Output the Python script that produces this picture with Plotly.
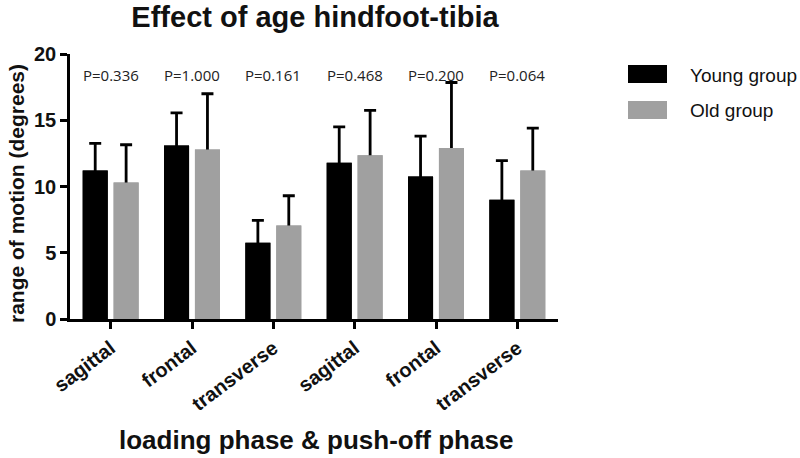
import plotly.graph_objects as go

# data
categorias = ['sagittal', 'frontal', 'transverse', 'sagittal', 'frontal', 'transverse']
p_valores = ['P=0.336', 'P=1.000', 'P=0.161', 'P=0.468', 'P=0.200', 'P=0.064']
grupos = ['Young group', 'Old group']
jovem_media = [11.2, 13.1, 5.75, 11.8, 10.75, 9.0]
jovem_sd = [2.05, 2.45, 1.7, 2.7, 3.05, 2.95]
idoso_media = [10.3, 12.8, 7.05, 12.35, 12.9, 11.2]
idoso_sd = [2.85, 4.2, 2.25, 3.4, 4.95, 3.2]

pos = list(range(len(categorias)))
fonte = 'Liberation Sans, Arial, sans-serif'
cores = ['#000000', '#a0a0a0']

# plot area in pixels (used to place the hand made legend and titles)
L, R, T, B = 70, 558, 54, 319


def px_x(x):
    return (x - L) / (R - L)


def px_y(y):
    return (B - y) / (B - T)


def barra_erro(medias, sd, cor, nome, grupo):
    # only the upper whisker shows; the lower cap is tucked inside the bar
    return go.Bar(x=pos, y=medias, name=nome, offsetgroup=grupo,
                  marker={'color': cor, 'line': {'width': 0}},
                  error_y={'type': 'data', 'array': sd, 'symmetric': False,
                           'arrayminus': [0.5] * len(sd), 'color': 'black',
                           'thickness': 2.8, 'width': 6})


def barra_cobre(medias, cor, nome, grupo):
    return go.Bar(x=pos, y=medias, name=nome, offsetgroup=grupo, showlegend=False,
                  marker={'color': cor, 'line': {'width': 0}})


fig = go.Figure(data=[
    barra_erro(jovem_media, jovem_sd, cores[0], grupos[0], 'a'),
    barra_erro(idoso_media, idoso_sd, cores[1], grupos[1], 'b'),
    barra_cobre(jovem_media, cores[0], grupos[0], 'a'),
    barra_cobre(idoso_media, cores[1], grupos[1], 'b'),
])

# p values above each pair
for i, p in enumerate(p_valores):
    fig.add_annotation(x=pos[i], y=18.4, text=p, showarrow=False,
                       font={'family': 'Open Sans, sans-serif', 'size': 15, 'color': '#222'})

# axis titles
fig.add_annotation(xref='paper', yref='paper', x=px_x(316), y=px_y(440), xanchor='center', yanchor='middle',
                   text='loading phase & push-off phase', showarrow=False,
                   font={'family': fonte, 'size': 26, 'color': '#111', 'weight': 'bold'})
fig.add_annotation(xref='paper', yref='paper', x=px_x(16), y=px_y(194), xanchor='center', yanchor='middle',
                   text='range of motion (degrees)', textangle=-90, showarrow=False,
                   font={'family': fonte, 'size': 21, 'color': '#111', 'weight': 'bold'})

# legend drawn by hand (big swatches like the original)
topos = [65, 101]
for k, g in enumerate(grupos):
    y0 = topos[k]
    fig.add_shape(type='rect', xref='paper', yref='paper',
                  x0=px_x(628), x1=px_x(667), y0=px_y(y0 + 18), y1=px_y(y0),
                  fillcolor=cores[k], line={'width': 0})
    fig.add_annotation(xref='paper', yref='paper', x=px_x(688), y=px_y(y0 + 10),
                       xanchor='left', yanchor='middle', text=g, showarrow=False,
                       font={'family': fonte, 'size': 19, 'color': '#111'})

fig.update_layout(
    width=800, height=458,
    margin={'l': L, 'r': 800 - R, 't': T, 'b': 458 - B},
    paper_bgcolor='white', plot_bgcolor='white',
    showlegend=False,
    barmode='group', bargap=0.24, bargroupgap=0.19,
    title={'text': 'Effect of age hindfoot-tibia', 'x': 315 / 800, 'xanchor': 'center',
           'y': 1 - 17 / 458, 'yanchor': 'middle',
           'font': {'family': fonte, 'size': 29, 'color': '#111', 'weight': 'bold'}},
    xaxis={'tickvals': pos, 'ticktext': categorias, 'range': [-0.5, 5.5],
           'showline': True, 'linecolor': 'black', 'linewidth': 2.5,
           'ticks': 'outside', 'ticklen': 7, 'tickwidth': 2.5, 'tickcolor': 'black',
           'tickangle': -37, 'showgrid': False, 'zeroline': False,
           'tickfont': {'family': fonte, 'size': 20, 'color': '#111', 'weight': 'bold'}},
    yaxis={'range': [0, 20], 'tickvals': [0, 5, 10, 15, 20],
           'showline': True, 'linecolor': 'black', 'linewidth': 2.5,
           'ticks': 'outside', 'ticklen': 7, 'tickwidth': 2.5, 'tickcolor': 'black',
           'showgrid': False, 'zeroline': False,
           'tickfont': {'family': fonte, 'size': 20, 'color': '#111', 'weight': 'bold'}},
)

# the page body has a default 8px margin; drop it so the figure sits at (0, 0)
fig.write_html('out.html', config={'displayModeBar': False},
               post_script="document.body.style.margin='0';")
